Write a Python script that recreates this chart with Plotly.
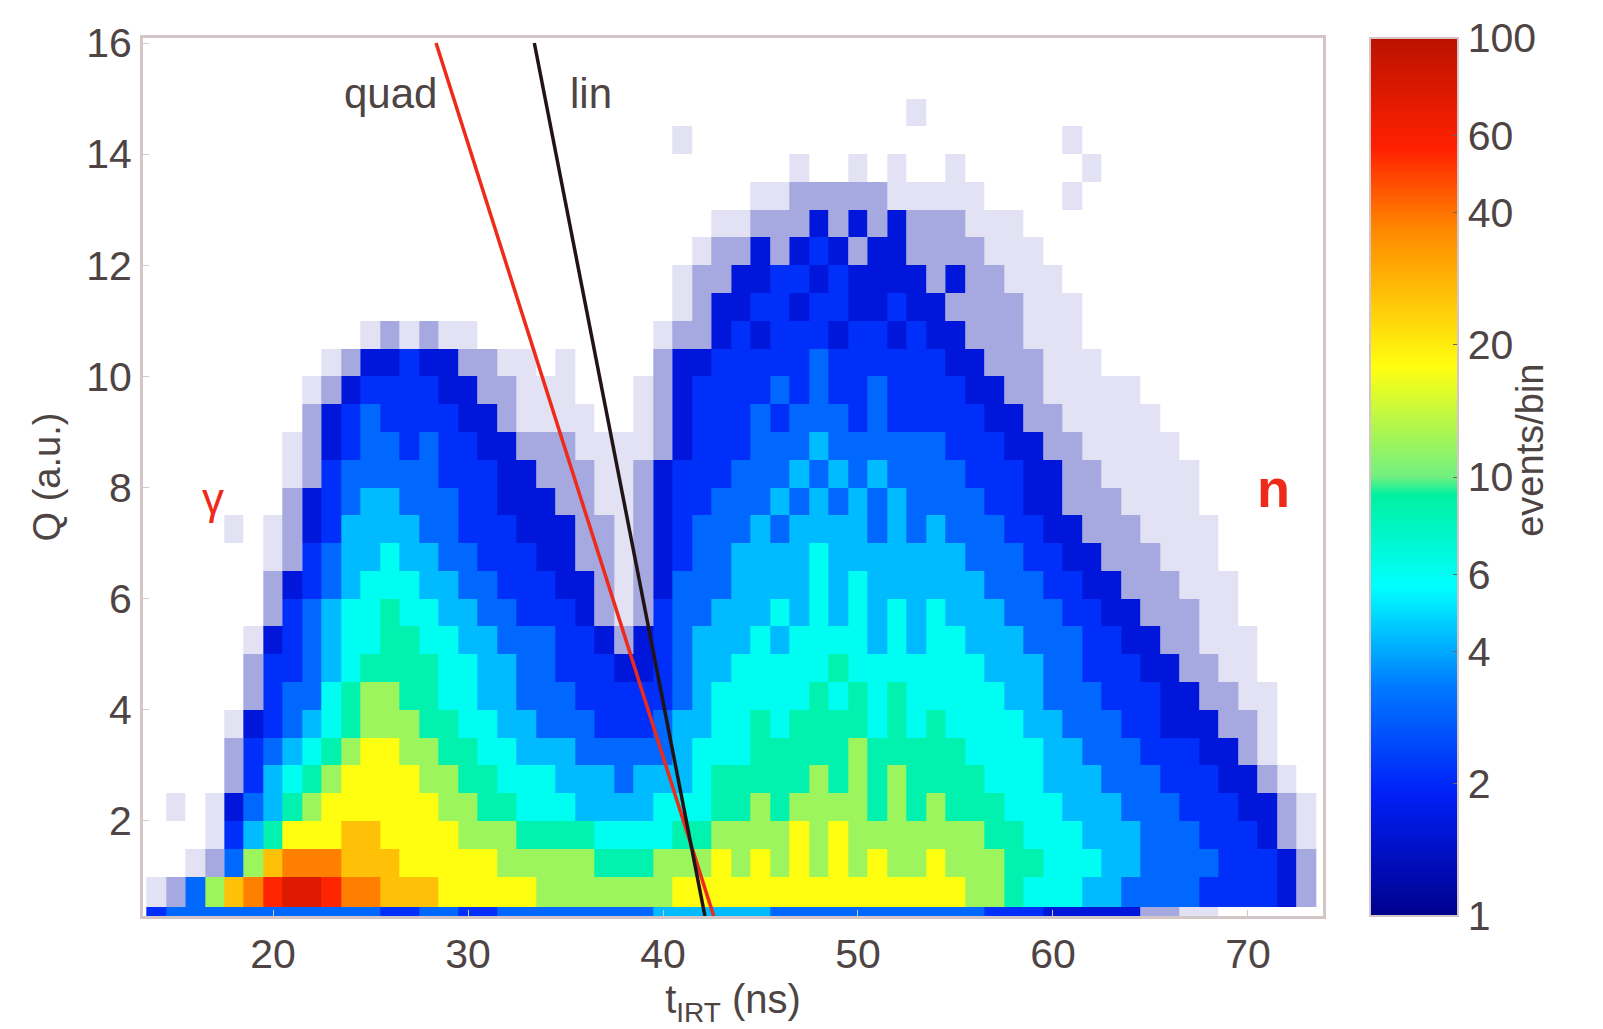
import numpy as np
import plotly.graph_objects as go

# --- 2D histogram, read off the picture as coarse density levels ------------
# columns: 1 ns bins centred on 14 ... 73 ns, written in groups of 10
# rows: top (15.5-16) first, bottom strip (0.29-0.45) last
T_EDGES = np.arange(13.5, 74.0, 1.0)
Q_EDGES = [0.29, 0.45] + list(np.arange(1.0, 16.01, 0.5))

LEVEL_ROWS = [
    ".......... .......... .......... .......... .......... ..........",
    ".......... .......... .......... .......... .......... ..........",
    ".......... .......... .......... .........- .......... ..........",
    ".......... .......... .......-.. .......... .......-.. ..........",
    ".......... .......... .......... ...-..-.-. .-......-. ..........",
    ".......... .......... .......... .--:::::-- ---....-.. ..........",
    ".......... .......... .........- -:::1:1:1: ::---..... ..........",
    ".......... .......... ........-: :1:121:11: :::---.... ..........",
    ".......... .......... .......-:: 1122121111 :1::---... ..........",
    ".......... .......... .......-:1 1221221121 1::::---.. ..........",
    ".......... .-:-:--... ......-::1 2122212212 11:::---.. ..........",
    ".........- :11211::-- .-....:112 2222322222 211:::---. ..........",
    "........-: 1222211::- --...-:122 2232322322 2211::---- -.........",
    "........:1 23222211:- ---..-:122 2323332322 22211::--- --........",
    ".......-:1 233232211: ::----:122 2333433333 322211::-- ---.......",
    ".......-:2 3333322211 :::--:1222 3334343433 3322211::- ----......",
    ".......:12 3443332211 1::--:1223 3343434343 3332211::: ----......",
    "....-.-:12 4444332221 11::-:1233 3434444343 43332211:: :----.....",
    "......-:23 4454433222 11::-:1233 4444544444 443332211: ::---.....",
    "......:123 4555443322 211:-:1333 4444545444 4443332211 :::---....",
    "......:234 5565544332 221:-:2334 4454545454 5444333221 1:::--....",
    ".....-1234 5566554433 3221:12344 4545555454 5544433322 11::---...",
    ".....:2234 5666655443 3222112344 5555565555 5554443322 211::--...",
    ".....:2335 6776655443 3322222345 5555656565 5555443332 2211::--..",
    "....-12345 6777665544 3332223445 5656666565 6555544333 22111::-..",
    "....:23456 7887766554 4433333455 5666667666 6655554433 322211:-..",
    "....:24567 8888776655 5444344456 6666767676 6665554443 3322211:-.",
    ".-.-134678 8888877665 5544445556 6767777676 7666555444 33322211:-",
    "...-246888 9988887776 6665555667 7778787777 7776655544 43332221:-",
    "..-:379AAA 9998888877 7776667778 7878787877 8777665554 433332221:",
    "-:379ABCCB AA99988888 7777777888 8888888888 8877655544 333322221:",
    "2333333333 3322332233 3333334444 4433333333 3332221111 1::--.....",
]

# events/bin for each level character
LEVEL_COUNTS = {"1": 1.6, "2": 2.1, "3": 3.0, "4": 4.3, "5": 6.0, "6": 8.5,
                "7": 12, "8": 18, "9": 26, "A": 38, "B": 55, "C": 75}
# sparse fringe (isolated single events with white gaps)
FRINGE_LEVELS = {"-": 0.0, ":": 1.0}

CB_TICKS = [1, 2, 4, 6, 10, 20, 40, 60, 100]

# discrimination cuts, endpoints (t, Q)
QUAD_T = [28.36, 42.6]
QUAD_Q = [16.0, 0.29]
LIN_T = [33.4, 42.15]
LIN_Q = [16.0, 0.29]

JET = [
    [0.0, "#00008c"], [0.14, "#0020f8"], [0.26, "#0078ff"],
    [0.375, "#00ffff"], [0.48, "#00f0a0"], [0.50, "#70f080"],
    [0.625, "#ffff10"], [0.78, "#ff8a00"], [0.875, "#ff2000"],
    [1.0, "#bb1200"],
]

rows = [r.replace(" ", "") for r in LEVEL_ROWS][::-1]
z_main = []
z_fringe = []
for r in rows:
    z_main.append([np.log10(LEVEL_COUNTS[c]) if c in LEVEL_COUNTS else None for c in r])
    z_fringe.append([FRINGE_LEVELS.get(c) for c in r])

FONT = "Liberation Sans, Arial, Helvetica, sans-serif"
TXT = "#4e4444"
FRAME = "#d4c6c6"

fig = go.Figure()
fig.add_trace(go.Heatmap(
    x=T_EDGES, y=Q_EDGES, z=z_fringe,
    colorscale=[[0, "#e2e2f4"], [1, "#a6a8e0"]],
    zmin=0, zmax=1, showscale=False, hoverinfo="skip",
))
fig.add_trace(go.Heatmap(
    x=T_EDGES, y=Q_EDGES, z=z_main,
    colorscale=JET, zmin=0, zmax=2,
    colorbar=dict(
        x=1.04, xanchor="left", xpad=0, y=0.5, yanchor="middle", ypad=0,
        len=1.0, thickness=88,
        outlinecolor=FRAME, outlinewidth=2,
        tickvals=[np.log10(v) for v in CB_TICKS],
        ticktext=[str(v) for v in CB_TICKS],
        ticks="inside", ticklen=6, tickcolor="#666",
        tickfont=dict(size=41, color=TXT, family=FONT),
    ),
))

fig.add_trace(go.Scatter(x=QUAD_T, y=QUAD_Q, mode="lines",
                         line=dict(color="#ee2a1a", width=3.5), showlegend=False))
fig.add_trace(go.Scatter(x=LIN_T, y=LIN_Q, mode="lines",
                         line=dict(color="#221414", width=3.5), showlegend=False))

fig.add_annotation(x=26.0, y=15.1, text="quad", showarrow=False,
                   font=dict(size=42, color=TXT, family=FONT))
fig.add_annotation(x=36.3, y=15.1, text="lin", showarrow=False,
                   font=dict(size=42, color=TXT, family=FONT))
fig.add_annotation(x=16.9, y=7.8, text="γ", showarrow=False,
                   font=dict(size=44, color="#ee2a1a", family=FONT))
fig.add_annotation(x=71.3, y=8.0, text="<b>n</b>", showarrow=False,
                   font=dict(size=54, color="#ee2a1a", family=FONT))
# colorbar label, set a bit away from the tick labels as in the original
fig.add_annotation(xref="paper", yref="paper", x=1.195, y=0.53,
                   text="events/bin", textangle=-90, showarrow=False,
                   font=dict(size=38, color=TXT, family=FONT))

fig.update_layout(
    width=1603, height=1029,
    paper_bgcolor="white", plot_bgcolor="white",
    margin=dict(l=135, r=288, t=22, b=121),
    font=dict(family=FONT, color=TXT, size=40),
    showlegend=False,
)
fig.update_xaxes(
    range=[13.33, 73.85], tickvals=[20, 30, 40, 50, 60, 70],
    showgrid=False, zeroline=False,
    showline=True, mirror=True, linecolor=FRAME, linewidth=3,
    ticks="inside", ticklen=6, tickcolor=FRAME,
    tickfont=dict(size=41, color=TXT),
    title=dict(text="t<sub>IRT</sub> (ns)", font=dict(size=40, color=TXT), standoff=2),
)
fig.update_yaxes(
    range=[0.29, 16.09], tickvals=[2, 4, 6, 8, 10, 12, 14, 16],
    showgrid=False, zeroline=False,
    showline=True, mirror=True, linecolor=FRAME, linewidth=3,
    ticks="inside", ticklen=6, tickcolor=FRAME,
    tickfont=dict(size=41, color=TXT),
    title=dict(text="Q (a.u.)", font=dict(size=38, color=TXT), standoff=14),
)

fig.write_html("out.html")
